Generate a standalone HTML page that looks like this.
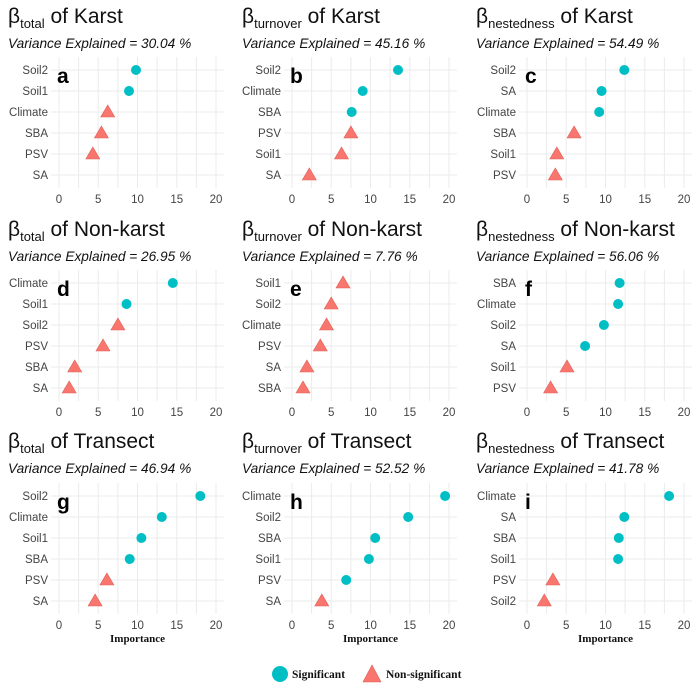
<!DOCTYPE html>
<html><head><meta charset="utf-8"><style>
html,body{margin:0;padding:0;background:#fff}
svg{display:block}
.t{font-family:"Liberation Sans",sans-serif;font-size:21px;fill:#111}
.s{font-family:"Liberation Sans",sans-serif;font-size:13.7px;font-style:italic;fill:#111}
.c{font-family:"Liberation Sans",sans-serif;font-size:11.5px;fill:#444;text-anchor:end}
.k{font-family:"Liberation Sans",sans-serif;font-size:11.5px;fill:#444;text-anchor:middle}
.L{font-family:"Liberation Sans",sans-serif;font-size:21px;font-weight:bold;fill:#000}
.imp{font-family:"Liberation Serif",serif;font-size:11px;font-weight:bold;fill:#111;text-anchor:middle}
.leg{font-family:"Liberation Serif",serif;font-size:11.5px;font-weight:bold;fill:#111}
.g line{stroke:#ebebeb;stroke-width:1}
.p{fill:#00BFC4}
.n{fill:#F8766D;stroke:#e0605a;stroke-width:0.6}
</style></head><body>
<svg width="700" height="700" viewBox="0 0 700 700">
<defs>
<g id="grid" class="g">
<line x1="0" y1="-13" x2="0" y2="118"/><line x1="19.6" y1="-13" x2="19.6" y2="118"/><line x1="39.2" y1="-13" x2="39.2" y2="118"/><line x1="58.9" y1="-13" x2="58.9" y2="118"/><line x1="78.5" y1="-13" x2="78.5" y2="118"/><line x1="98.1" y1="-13" x2="98.1" y2="118"/><line x1="117.8" y1="-13" x2="117.8" y2="118"/><line x1="137.4" y1="-13" x2="137.4" y2="118"/><line x1="157" y1="-13" x2="157" y2="118"/>
<line x1="-8" y1="0" x2="165" y2="0"/><line x1="-8" y1="21" x2="165" y2="21"/><line x1="-8" y1="42" x2="165" y2="42"/><line x1="-8" y1="63" x2="165" y2="63"/><line x1="-8" y1="84" x2="165" y2="84"/><line x1="-8" y1="105" x2="165" y2="105"/>
</g>
</defs>

<text class="t" x="8" y="23">β<tspan font-size="13" dy="5">total</tspan><tspan dy="-5"> of Karst</tspan></text>
<text class="s" x="8" y="48">Variance Explained = 30.04 %</text>
<text class="t" x="242" y="23">β<tspan font-size="13" dy="5">turnover</tspan><tspan dy="-5"> of Karst</tspan></text>
<text class="s" x="242" y="48">Variance Explained = 45.16 %</text>
<text class="t" x="476" y="23">β<tspan font-size="13" dy="5">nestedness</tspan><tspan dy="-5"> of Karst</tspan></text>
<text class="s" x="476" y="48">Variance Explained = 54.49 %</text>

<text class="t" x="8" y="236">β<tspan font-size="13" dy="5">total</tspan><tspan dy="-5"> of Non-karst</tspan></text>
<text class="s" x="8" y="261">Variance Explained = 26.95 %</text>
<text class="t" x="242" y="236">β<tspan font-size="13" dy="5">turnover</tspan><tspan dy="-5"> of Non-karst</tspan></text>
<text class="s" x="242" y="261">Variance Explained = 7.76 %</text>
<text class="t" x="476" y="236">β<tspan font-size="13" dy="5">nestedness</tspan><tspan dy="-5"> of Non-karst</tspan></text>
<text class="s" x="476" y="261">Variance Explained = 56.06 %</text>

<text class="t" x="8" y="448">β<tspan font-size="13" dy="5">total</tspan><tspan dy="-5"> of Transect</tspan></text>
<text class="s" x="8" y="473">Variance Explained = 46.94 %</text>
<text class="t" x="242" y="448">β<tspan font-size="13" dy="5">turnover</tspan><tspan dy="-5"> of Transect</tspan></text>
<text class="s" x="242" y="473">Variance Explained = 52.52 %</text>
<text class="t" x="476" y="448">β<tspan font-size="13" dy="5">nestedness</tspan><tspan dy="-5"> of Transect</tspan></text>
<text class="s" x="476" y="473">Variance Explained = 41.78 %</text>

<g transform="translate(59,70)">
<use href="#grid"/>
<text class="c" x="-11" y="4">Soil2</text><text class="c" x="-11" y="25">Soil1</text><text class="c" x="-11" y="46">Climate</text><text class="c" x="-11" y="67">SBA</text><text class="c" x="-11" y="88">PSV</text><text class="c" x="-11" y="109">SA</text>
<text class="k" x="0" y="133">0</text><text class="k" x="39.2" y="133">5</text><text class="k" x="78.5" y="133">10</text><text class="k" x="117.8" y="133">15</text><text class="k" x="157" y="133">20</text>
<text class="L" x="-2" y="13">a</text>
<circle class="p" cx="77" cy="0" r="5"/><circle class="p" cx="70" cy="21" r="5"/>
<polygon class="n" points="48.7,35 41.7,47 55.7,47"/><polygon class="n" points="42.4,56 35.4,68 49.4,68"/><polygon class="n" points="33.8,77 26.8,89 40.8,89"/>
</g>
<g transform="translate(292,70)">
<use href="#grid"/>
<text class="c" x="-11" y="4">Soil2</text><text class="c" x="-11" y="25">Climate</text><text class="c" x="-11" y="46">SBA</text><text class="c" x="-11" y="67">PSV</text><text class="c" x="-11" y="88">Soil1</text><text class="c" x="-11" y="109">SA</text>
<text class="k" x="0" y="133">0</text><text class="k" x="39.2" y="133">5</text><text class="k" x="78.5" y="133">10</text><text class="k" x="117.8" y="133">15</text><text class="k" x="157" y="133">20</text>
<text class="L" x="-2" y="13">b</text>
<circle class="p" cx="106" cy="0" r="5"/><circle class="p" cx="70.7" cy="21" r="5"/><circle class="p" cx="59.7" cy="42" r="5"/>
<polygon class="n" points="58.9,56 51.9,68 65.9,68"/><polygon class="n" points="49.5,77 42.5,89 56.5,89"/><polygon class="n" points="17.3,98 10.3,110 24.3,110"/>
</g>
<g transform="translate(527,70)">
<use href="#grid"/>
<text class="c" x="-11" y="4">Soil2</text><text class="c" x="-11" y="25">SA</text><text class="c" x="-11" y="46">Climate</text><text class="c" x="-11" y="67">SBA</text><text class="c" x="-11" y="88">Soil1</text><text class="c" x="-11" y="109">PSV</text>
<text class="k" x="0" y="133">0</text><text class="k" x="39.2" y="133">5</text><text class="k" x="78.5" y="133">10</text><text class="k" x="117.8" y="133">15</text><text class="k" x="157" y="133">20</text>
<text class="L" x="-2" y="13">c</text>
<circle class="p" cx="97.3" cy="0" r="5"/><circle class="p" cx="74.6" cy="21" r="5"/><circle class="p" cx="72.2" cy="42" r="5"/>
<polygon class="n" points="47.1,56 40.1,68 54.1,68"/><polygon class="n" points="29.8,77 22.8,89 36.8,89"/><polygon class="n" points="28.3,98 21.3,110 35.3,110"/>
</g>

<g transform="translate(59,283)">
<use href="#grid"/>
<text class="c" x="-11" y="4">Climate</text><text class="c" x="-11" y="25">Soil1</text><text class="c" x="-11" y="46">Soil2</text><text class="c" x="-11" y="67">PSV</text><text class="c" x="-11" y="88">SBA</text><text class="c" x="-11" y="109">SA</text>
<text class="k" x="0" y="133">0</text><text class="k" x="39.2" y="133">5</text><text class="k" x="78.5" y="133">10</text><text class="k" x="117.8" y="133">15</text><text class="k" x="157" y="133">20</text>
<text class="L" x="-2" y="13">d</text>
<circle class="p" cx="113.8" cy="0" r="5"/><circle class="p" cx="67.5" cy="21" r="5"/>
<polygon class="n" points="58.9,35 51.9,47 65.9,47"/><polygon class="n" points="44,56 37,68 51,68"/><polygon class="n" points="15.7,77 8.7,89 22.7,89"/><polygon class="n" points="10.2,98 3.2,110 17.2,110"/>
</g>
<g transform="translate(292,283)">
<use href="#grid"/>
<text class="c" x="-11" y="4">Soil1</text><text class="c" x="-11" y="25">Soil2</text><text class="c" x="-11" y="46">Climate</text><text class="c" x="-11" y="67">PSV</text><text class="c" x="-11" y="88">SA</text><text class="c" x="-11" y="109">SBA</text>
<text class="k" x="0" y="133">0</text><text class="k" x="39.2" y="133">5</text><text class="k" x="78.5" y="133">10</text><text class="k" x="117.8" y="133">15</text><text class="k" x="157" y="133">20</text>
<text class="L" x="-2" y="13">e</text>
<polygon class="n" points="51,-7 44,5 58,5"/><polygon class="n" points="39.2,14 32.2,26 46.2,26"/><polygon class="n" points="34.5,35 27.5,47 41.5,47"/><polygon class="n" points="28.3,56 21.3,68 35.3,68"/><polygon class="n" points="14.9,77 7.9,89 21.9,89"/><polygon class="n" points="11,98 4,110 18,110"/>
</g>
<g transform="translate(527,283)">
<use href="#grid"/>
<text class="c" x="-11" y="4">SBA</text><text class="c" x="-11" y="25">Climate</text><text class="c" x="-11" y="46">Soil2</text><text class="c" x="-11" y="67">SA</text><text class="c" x="-11" y="88">Soil1</text><text class="c" x="-11" y="109">PSV</text>
<text class="k" x="0" y="133">0</text><text class="k" x="39.2" y="133">5</text><text class="k" x="78.5" y="133">10</text><text class="k" x="117.8" y="133">15</text><text class="k" x="157" y="133">20</text>
<text class="L" x="-2" y="13">f</text>
<circle class="p" cx="92.6" cy="0" r="5"/><circle class="p" cx="91.1" cy="21" r="5"/><circle class="p" cx="76.9" cy="42" r="5"/><circle class="p" cx="58.1" cy="63" r="5"/>
<polygon class="n" points="40,77 33,89 47,89"/><polygon class="n" points="23.6,98 16.6,110 30.6,110"/>
</g>

<g transform="translate(59,496)">
<use href="#grid"/>
<text class="c" x="-11" y="4">Soil2</text><text class="c" x="-11" y="25">Climate</text><text class="c" x="-11" y="46">Soil1</text><text class="c" x="-11" y="67">SBA</text><text class="c" x="-11" y="88">PSV</text><text class="c" x="-11" y="109">SA</text>
<text class="k" x="0" y="133">0</text><text class="k" x="39.2" y="133">5</text><text class="k" x="78.5" y="133">10</text><text class="k" x="117.8" y="133">15</text><text class="k" x="157" y="133">20</text>
<text class="imp" x="78.5" y="146">Importance</text>
<text class="L" x="-2" y="13">g</text>
<circle class="p" cx="141.3" cy="0" r="5"/><circle class="p" cx="102.8" cy="21" r="5"/><circle class="p" cx="82.4" cy="42" r="5"/><circle class="p" cx="70.7" cy="63" r="5"/>
<polygon class="n" points="47.9,77 40.9,89 54.9,89"/><polygon class="n" points="36.1,98 29.1,110 43.1,110"/>
</g>
<g transform="translate(292,496)">
<use href="#grid"/>
<text class="c" x="-11" y="4">Climate</text><text class="c" x="-11" y="25">Soil2</text><text class="c" x="-11" y="46">SBA</text><text class="c" x="-11" y="67">Soil1</text><text class="c" x="-11" y="88">PSV</text><text class="c" x="-11" y="109">SA</text>
<text class="k" x="0" y="133">0</text><text class="k" x="39.2" y="133">5</text><text class="k" x="78.5" y="133">10</text><text class="k" x="117.8" y="133">15</text><text class="k" x="157" y="133">20</text>
<text class="imp" x="78.5" y="146">Importance</text>
<text class="L" x="-2" y="13">h</text>
<circle class="p" cx="153.1" cy="0" r="5"/><circle class="p" cx="116.2" cy="21" r="5"/><circle class="p" cx="83.2" cy="42" r="5"/><circle class="p" cx="76.9" cy="63" r="5"/><circle class="p" cx="54.2" cy="84" r="5"/>
<polygon class="n" points="29.8,98 22.8,110 36.8,110"/>
</g>
<g transform="translate(527,496)">
<use href="#grid"/>
<text class="c" x="-11" y="4">Climate</text><text class="c" x="-11" y="25">SA</text><text class="c" x="-11" y="46">SBA</text><text class="c" x="-11" y="67">Soil1</text><text class="c" x="-11" y="88">PSV</text><text class="c" x="-11" y="109">Soil2</text>
<text class="k" x="0" y="133">0</text><text class="k" x="39.2" y="133">5</text><text class="k" x="78.5" y="133">10</text><text class="k" x="117.8" y="133">15</text><text class="k" x="157" y="133">20</text>
<text class="imp" x="78.5" y="146">Importance</text>
<text class="L" x="-2" y="13">i</text>
<circle class="p" cx="142.1" cy="0" r="5"/><circle class="p" cx="97.3" cy="21" r="5"/><circle class="p" cx="91.8" cy="42" r="5"/><circle class="p" cx="91.1" cy="63" r="5"/>
<polygon class="n" points="25.9,77 18.9,89 32.9,89"/><polygon class="n" points="17.3,98 10.3,110 24.3,110"/>
</g>

<circle class="p" cx="280" cy="674" r="8"/>
<text class="leg" x="292" y="678">Significant</text>
<polygon class="n" points="372,665 363,682 381,682"/>
<text class="leg" x="386" y="678">Non-significant</text>
</svg>
</body></html>
